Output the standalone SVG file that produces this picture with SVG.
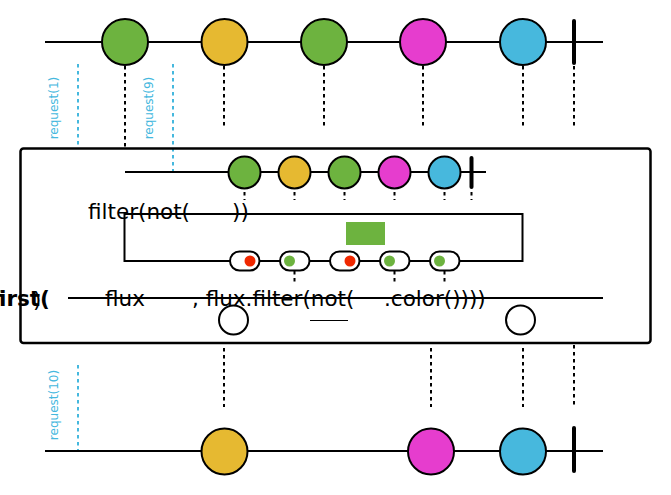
<svg xmlns="http://www.w3.org/2000/svg" width="671" height="495" viewBox="0 0 671 495">
<style>
.ln{stroke:#000;stroke-width:2;fill:none}
.dot{stroke:#000;stroke-width:2;stroke-dasharray:3.5,3.5;fill:none}
.req{stroke:#45b8de;stroke-width:2;stroke-dasharray:3.5,3.5;fill:none}
.rt{font-family:"DejaVu Sans",sans-serif;font-size:12px;fill:#45b8de;text-anchor:middle}
.big{font-family:"DejaVu Sans",sans-serif;font-size:21.5px;fill:#000}
.m{stroke:#000;stroke-width:2}
.g{fill:#6db33f}.y{fill:#e6b931}.p{fill:#e63dce}.b{fill:#47b8dd}.w{fill:#fff}
.bar{stroke:#000;stroke-width:4;stroke-linecap:round}
</style>
<rect width="671" height="495" fill="#fff"/>
<g id="connectors">
<line class="ln" x1="45" y1="42" x2="603" y2="42"/>
<line class="dot" x1="125" y1="66" x2="125" y2="150"/>
<line class="dot" x1="224" y1="66" x2="224" y2="126"/>
<line class="dot" x1="324" y1="66" x2="324" y2="126"/>
<line class="dot" x1="423" y1="66" x2="423" y2="126"/>
<line class="dot" x1="523" y1="66" x2="523" y2="126"/>
<line class="dot" x1="574" y1="66" x2="574" y2="126"/>
<line class="req" x1="78" y1="64" x2="78" y2="148"/>
<line class="req" x1="173" y1="64" x2="173" y2="172"/>
<line class="ln" x1="125" y1="172" x2="486" y2="172"/>
<line class="dot" x1="244.5" y1="192" x2="244.5" y2="200"/>
<line class="dot" x1="294.5" y1="192" x2="294.5" y2="200"/>
<line class="dot" x1="344.5" y1="192" x2="344.5" y2="200"/>
<line class="dot" x1="394.5" y1="192" x2="394.5" y2="200"/>
<line class="dot" x1="444.5" y1="192" x2="444.5" y2="200"/>
<line class="dot" x1="471.5" y1="192" x2="471.5" y2="200"/>
<rect class="ln" x="124.5" y="214" width="398" height="47"/>
<line class="dot" x1="294.5" y1="271" x2="294.5" y2="285"/>
<line class="dot" x1="394.5" y1="271" x2="394.5" y2="285"/>
<line class="dot" x1="444.5" y1="271" x2="444.5" y2="285"/>
<line class="ln" x1="68" y1="298" x2="603" y2="298"/>
<line stroke="#000" stroke-width="1" x1="310" y1="320.5" x2="348" y2="320.5"/>
<line class="dot" x1="224" y1="348" x2="224" y2="407"/>
<line class="dot" x1="431" y1="348" x2="431" y2="407"/>
<line class="dot" x1="523" y1="348" x2="523" y2="407"/>
<line class="dot" x1="574" y1="345" x2="574" y2="405"/>
<line class="req" x1="78" y1="365" x2="78" y2="450"/>
<line class="ln" x1="45" y1="451" x2="603" y2="451"/>
</g>
<g id="outer-box"><rect x="20.5" y="148.5" width="630" height="194.5" rx="3" fill="none" stroke="#000" stroke-width="2.5"/></g>
<g id="top-marbles">
<circle class="m g" cx="125" cy="42" r="23"/>
<circle class="m y" cx="224.5" cy="42" r="23"/>
<circle class="m g" cx="324" cy="42" r="23"/>
<circle class="m p" cx="423" cy="42" r="23"/>
<circle class="m b" cx="523" cy="42" r="23"/>
<line class="bar" x1="574" y1="21" x2="574" y2="63"/>
</g>
<g id="requests">
<text class="rt" transform="translate(58,108) rotate(-90)">request(1)</text>
<text class="rt" transform="translate(153,108) rotate(-90)">request(9)</text>
<text class="rt" transform="translate(58,405) rotate(-90)">request(10)</text>
</g>
<g id="inner-marbles">
<circle class="m g" cx="244.5" cy="172.5" r="16"/>
<circle class="m y" cx="294.5" cy="172.5" r="16"/>
<circle class="m g" cx="344.5" cy="172.5" r="16"/>
<circle class="m p" cx="394.5" cy="172.5" r="16"/>
<circle class="m b" cx="444.5" cy="172.5" r="16"/>
<line class="bar" x1="471.5" y1="158" x2="471.5" y2="187"/>
</g>
<g id="filter">
<text class="big" x="88" y="219">filter(not(</text>
<text class="big" x="232" y="219">))</text>
<rect x="346" y="222" width="39" height="23" fill="#6db33f"/>
<rect class="m w" x="230" y="251.5" width="29.5" height="19" rx="9.5"/>
<circle cx="250" cy="261" r="5.5" fill="#f02800"/>
<rect class="m w" x="280" y="251.5" width="29.5" height="19" rx="9.5"/>
<circle cx="289.5" cy="261" r="5.5" fill="#6db33f"/>
<rect class="m w" x="330" y="251.5" width="29.5" height="19" rx="9.5"/>
<circle cx="350" cy="261" r="5.5" fill="#f02800"/>
<rect class="m w" x="380" y="251.5" width="29.5" height="19" rx="9.5"/>
<circle cx="389.5" cy="261" r="5.5" fill="#6db33f"/>
<rect class="m w" x="430" y="251.5" width="29.5" height="19" rx="9.5"/>
<circle cx="439.5" cy="261" r="5.5" fill="#6db33f"/>
</g>
<g id="first">
<text class="big" x="-9.5" y="306" font-weight="bold">first(</text>
<text class="big" x="33" y="307">)</text>
<text class="big" x="105" y="306">flux</text>
<text class="big" x="192" y="306">, flux.filter(not(</text>
<text class="big" x="384" y="306">.color())))</text>
<circle class="m w" cx="233.5" cy="320" r="14.5"/>
<circle class="m w" cx="520.5" cy="320" r="14.5"/>
</g>
<g id="bottom-marbles">
<circle class="m y" cx="224.5" cy="451.5" r="23"/>
<circle class="m p" cx="431" cy="451.5" r="23"/>
<circle class="m b" cx="523" cy="451.5" r="23"/>
<line class="bar" x1="574" y1="428" x2="574" y2="471"/>
</g>
</svg>
